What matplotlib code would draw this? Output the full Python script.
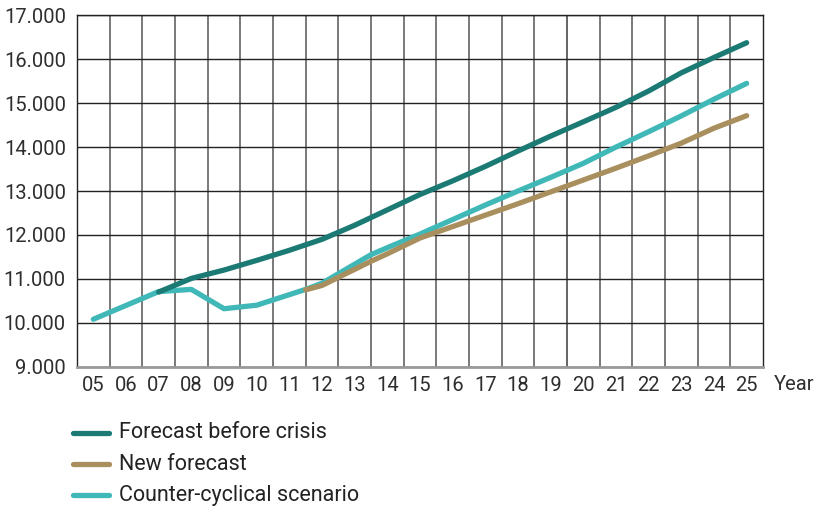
import matplotlib
matplotlib.use("Agg")
import matplotlib.pyplot as plt
from matplotlib.lines import Line2D
from matplotlib.ticker import FuncFormatter

plt.rcParams['font.family'] = ['Roboto', 'DejaVu Sans']

# Year labels shown on the x axis
year_labels = ['05', '06', '07', '08', '09', '10', '11', '12', '13', '14', '15',
               '16', '17', '18', '19', '20', '21', '22', '23', '24', '25']
first_year = 2005

# Forecast before crisis
before_years = [2007, 2008, 2009, 2010, 2011, 2012, 2013, 2014, 2015, 2016, 2017,
                2018, 2019, 2020, 2021, 2022, 2023, 2024, 2025]
before_values = [10700, 11010, 11200, 11420, 11650, 11900, 12220, 12570, 12920, 13230,
                 13560, 13910, 14250, 14575, 14905, 15277, 15690, 16040, 16376]

# New forecast
new_years = [2011.5, 2012, 2013.5, 2014, 2015, 2016, 2017, 2018, 2019, 2020, 2021,
             2022, 2023, 2024, 2025]
new_values = [10750, 10850, 11400, 11570, 11930, 12190, 12450, 12710, 12980, 13250,
              13520, 13800, 14090, 14430, 14715]

# Counter-cyclical scenario
counter_years = [2005, 2007, 2008, 2009, 2010, 2011.5, 2012, 2013.5, 2014, 2015, 2016,
                 2017, 2018, 2019, 2020, 2021, 2022, 2023, 2024, 2025]
counter_values = [10080, 10710, 10760, 10320, 10400, 10760, 10900, 11550, 11710, 12020,
                  12350, 12680, 13000, 13310, 13630, 14000, 14350, 14710, 15090, 15450]

series = [
    ("Forecast before crisis", before_years, before_values, "#1c7a74", 3),
    ("New forecast", new_years, new_values, "#a98f5d", 2),
    ("Counter-cyclical scenario", counter_years, counter_values, "#40b8b7", 1),
]

TEXT_SIZE = 14.5
TEXT_COLOR = '#2e2e2e'

fig = plt.figure(figsize=(8.18, 5.08), dpi=100)
ax = fig.add_axes([77 / 818, 1 - 366.7 / 508, 686 / 818, (366.7 - 15.3) / 508])

n = len(year_labels)
ax.set_xlim(first_year - 0.5, first_year + n - 0.5)
ax.set_ylim(9000, 17000)

# Grid: horizontal lines on value ticks, vertical lines between years
ax.set_yticks(range(9000, 17001, 1000))
ax.yaxis.set_major_formatter(FuncFormatter(lambda v, p: f"{int(v):,}".replace(",", ".")))
ax.set_xticks([first_year + i for i in range(n)])
ax.set_xticklabels(year_labels)
ax.set_xticks([first_year + i + 0.5 for i in range(n - 1)], minor=True)
ax.grid(axis='y', which='major', color='#222222', linewidth=1.0, zorder=0)
ax.grid(axis='x', which='minor', color='#6e6e6e', linewidth=1.3, zorder=0)
ax.axvline(2019.5, color='#111111', linewidth=1.2, zorder=0.5)

ax.tick_params(axis='both', which='both', length=0)
ax.tick_params(axis='x', pad=7, labelsize=TEXT_SIZE, labelcolor=TEXT_COLOR)
ax.tick_params(axis='y', pad=8, labelsize=TEXT_SIZE, labelcolor=TEXT_COLOR)

for s in ['top', 'left', 'right']:
    ax.spines[s].set_color('#222222')
    ax.spines[s].set_linewidth(1.0)
ax.spines['bottom'].set_color('#9a9a9a')
ax.spines['bottom'].set_linewidth(2.0)

for label, xs, ys, color, z in series:
    ax.plot(xs, ys, color=color, linewidth=3.8, solid_capstyle='round',
            solid_joinstyle='round', zorder=2 + z, label=label)

fig.text(774 / 818, 1 - 385 / 508, "Year", fontsize=TEXT_SIZE, color=TEXT_COLOR,
         ha='left', va='center')

# Legend drawn as line samples and labels beneath the plot
legend_rows = [433, 464, 495]
for (label, xs, ys, color, z), ypx in zip(series, legend_rows):
    yf = 1 - ypx / 508
    fig.add_artist(Line2D([73 / 818, 109 / 818], [yf, yf], color=color, linewidth=3.8,
                          solid_capstyle='round', transform=fig.transFigure))
    fig.text(119 / 818, yf, label, fontsize=15.5, color='#222222',
             ha='left', va='center')

fig.savefig("out.png", dpi=100)
